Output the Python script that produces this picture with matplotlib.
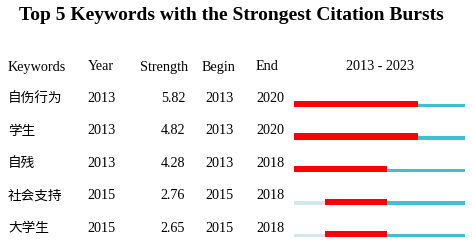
import matplotlib
matplotlib.use("Agg")
import matplotlib.pyplot as plt

# table data
keywords = ["自伤行为", "学生", "自残", "社会支持", "大学生"]
years = [2013, 2013, 2013, 2015, 2015]
strength = [5.82, 4.82, 4.28, 2.76, 2.65]
begin = [2013, 2013, 2013, 2015, 2015]
end = [2020, 2020, 2018, 2018, 2018]
start_year = 2013
end_year = 2023

serif = ["Liberation Serif", "DejaVu Serif"]
cjk = ["Noto Sans CJK SC", "DejaVu Sans"]

W, H = 472, 245
fig = plt.figure(figsize=(W / 100, H / 100), dpi=100)
fig.patch.set_facecolor("white")


def px(x, y):
    return x / W, 1 - y / H


fs = 10.2
fig.text(*px(231, 16), "Top 5 Keywords with the Strongest Citation Bursts",
         ha="center", va="center", fontsize=14, fontweight="bold", family=serif)

hy = 67
fig.text(*px(8, hy), "Keywords", ha="left", va="center", fontsize=fs, family=serif)
fig.text(*px(101, hy), "Year", ha="center", va="center", fontsize=fs, family=serif)
fig.text(*px(188, hy), "Strength", ha="right", va="center", fontsize=fs, family=serif)
fig.text(*px(219, hy), "Begin", ha="center", va="center", fontsize=fs, family=serif)
fig.text(*px(256, hy), "End", ha="left", va="center", fontsize=fs, family=serif)
fig.text(*px(380, hy), f"{start_year} - {end_year}", ha="center", va="center",
         fontsize=fs, family=serif)

row_y0, row_dy = 98, 32.6
for i in range(len(keywords)):
    y = row_y0 + i * row_dy
    fig.text(*px(8, y), keywords[i], ha="left", va="center", fontsize=9.8, family=cjk)
    fig.text(*px(101, y), str(years[i]), ha="center", va="center", fontsize=fs, family=serif)
    fig.text(*px(185, y), f"{strength[i]:.2f}", ha="right", va="center", fontsize=fs, family=serif)
    fig.text(*px(219, y), str(begin[i]), ha="center", va="center", fontsize=fs, family=serif)
    fig.text(*px(256, y), str(end[i]), ha="left", va="center", fontsize=fs, family=serif)

# burst bars
bx0, bx1 = 294, 465
top_px = 104 - row_dy / 2
ax = fig.add_axes([bx0 / W, 0, (bx1 - bx0) / W, 1 - top_px / H])
ax.set_xlim(start_year, end_year + 1)
ax.set_ylim((H - top_px) / row_dy - 0.5, -0.5)
ax.axis("off")

base = 0.09
for i in range(len(keywords)):
    if years[i] > start_year:
        ax.barh(i + base, years[i] - start_year, left=start_year, height=-0.1,
                align="edge", color="#d5e6ef", linewidth=0)
    ax.barh(i + base, end_year + 1 - years[i], left=years[i], height=-0.1,
            align="edge", color="#3ec0d0", linewidth=0)
    ax.barh(i + base, end[i] + 1 - begin[i], left=begin[i], height=-0.19,
            align="edge", color="#ff0000", linewidth=0)

fig.savefig("out.png", dpi=100, facecolor="white")
